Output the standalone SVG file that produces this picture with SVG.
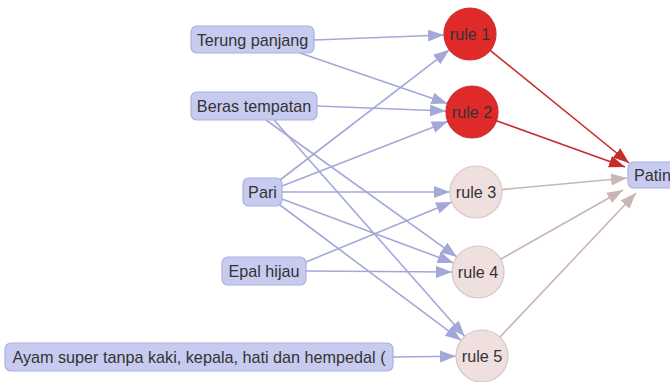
<svg xmlns="http://www.w3.org/2000/svg" width="670" height="382" viewBox="0 0 670 382">
  <style>
    .box { fill: #c8cbf0; stroke: #aab0e0; stroke-width: 1.2; }
    .hot { fill: #e02a2a; stroke: #c93030; stroke-width: 1.2; }
    .cold { fill: #f0dfdf; stroke: #d8c6c6; stroke-width: 1.2; }
    text { font-family: "Liberation Sans", Arial, sans-serif; font-size: 16.2px; fill: #333; text-anchor: middle; }
    .in { stroke: #a3a8d9; stroke-width: 1.6; fill: none; marker-end: url(#arrBlue); }
    .red { stroke: #c62c2a; stroke-width: 1.6; fill: none; marker-end: url(#arrRed); }
    .grey { stroke: #c9b6b6; stroke-width: 1.6; fill: none; marker-end: url(#arrGrey); }
  </style>
  <defs>
    <marker id="arrBlue" markerUnits="userSpaceOnUse" markerWidth="17" markerHeight="13" refX="16" refY="6" orient="auto">
      <path d="M0,0 L16,6 L0,12 z" fill="#a3a8d9"/>
    </marker>
    <marker id="arrRed" markerUnits="userSpaceOnUse" markerWidth="17" markerHeight="13" refX="16" refY="6" orient="auto">
      <path d="M0,0 L16,6 L0,12 z" fill="#c62c2a"/>
    </marker>
    <marker id="arrGrey" markerUnits="userSpaceOnUse" markerWidth="17" markerHeight="13" refX="16" refY="6" orient="auto">
      <path d="M0,0 L16,6 L0,12 z" fill="#c9b6b6"/>
    </marker>
  </defs>

  <g id="connectors">
    <line class="in" x1="314" y1="40" x2="444" y2="35"/>
    <line class="in" x1="300" y1="53" x2="447.4" y2="103.6"/>
    <line class="in" x1="317" y1="106" x2="446" y2="111"/>
    <line class="in" x1="266" y1="120" x2="456.9" y2="256.9"/>
    <line class="in" x1="274" y1="120" x2="464.8" y2="336.5"/>
    <line class="in" x1="280" y1="180" x2="449.4" y2="49.8"/>
    <line class="in" x1="282" y1="186" x2="447.8" y2="121.4"/>
    <line class="in" x1="282" y1="192" x2="450" y2="192"/>
    <line class="in" x1="282" y1="199" x2="453.6" y2="262.9"/>
    <line class="in" x1="280" y1="205" x2="461.2" y2="340.4"/>
    <line class="in" x1="306" y1="262" x2="452" y2="201.9"/>
    <line class="in" x1="306" y1="271" x2="452" y2="272"/>
    <line class="in" x1="393" y1="357" x2="456" y2="356.3"/>
    <line class="red" x1="490.2" y1="50.4" x2="629" y2="163"/>
    <line class="red" x1="496.5" y1="120.8" x2="625" y2="167"/>
    <line class="grey" x1="501.9" y1="189.6" x2="627" y2="178"/>
    <line class="grey" x1="500.6" y1="259.2" x2="623" y2="190"/>
    <line class="grey" x1="499.9" y1="337.1" x2="636" y2="193"/>
  </g>

  <g id="terung-panjang">
    <rect class="box" x="191" y="26" width="123" height="27" rx="6"/>
    <text x="252.5" y="45.5">Terung panjang</text>
  </g>
  <g id="beras-tempatan">
    <rect class="box" x="191" y="92" width="126" height="28" rx="6"/>
    <text x="254" y="111.8">Beras tempatan</text>
  </g>
  <g id="pari">
    <rect class="box" x="243" y="178" width="39" height="28" rx="6"/>
    <text x="262.5" y="197.8">Pari</text>
  </g>
  <g id="epal-hijau">
    <rect class="box" x="222" y="257" width="84" height="28" rx="6"/>
    <text x="264" y="276.8">Epal hijau</text>
  </g>
  <g id="ayam-super">
    <rect class="box" x="5" y="343" width="388" height="28" rx="6"/>
    <text x="199" y="362.8">Ayam super tanpa kaki, kepala, hati dan hempedal (</text>
  </g>

  <g id="rule-1">
    <circle class="hot" cx="470" cy="34" r="26"/>
    <text x="470" y="39.8">rule 1</text>
  </g>
  <g id="rule-2">
    <circle class="hot" cx="472" cy="112" r="26"/>
    <text x="472" y="117.8">rule 2</text>
  </g>
  <g id="rule-3">
    <circle class="cold" cx="476" cy="192" r="26"/>
    <text x="476" y="197.8">rule 3</text>
  </g>
  <g id="rule-4">
    <circle class="cold" cx="478" cy="272" r="26"/>
    <text x="478" y="277.8">rule 4</text>
  </g>
  <g id="rule-5">
    <circle class="cold" cx="482" cy="356" r="26"/>
    <text x="482" y="361.8">rule 5</text>
  </g>

  <g id="patin">
    <rect class="box" x="628" y="162" width="70" height="26" rx="6"/>
    <text x="634" y="180.8" style="text-anchor: start">Patin</text>
  </g>
</svg>
